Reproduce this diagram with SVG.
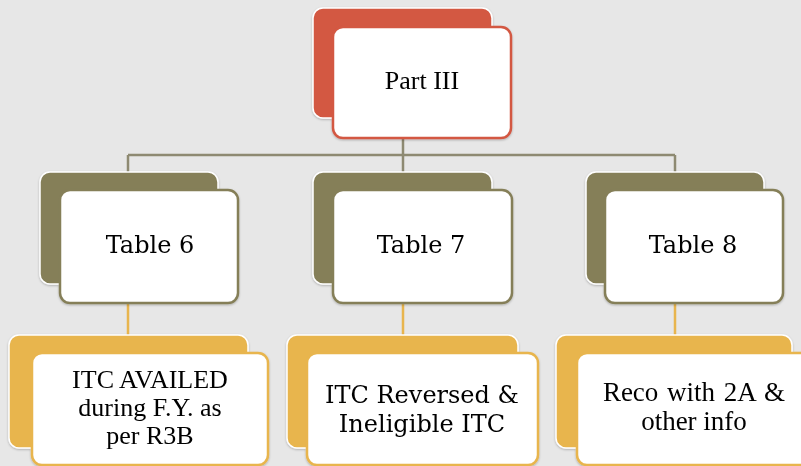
<svg xmlns="http://www.w3.org/2000/svg" width="801" height="466" viewBox="0 0 801 466">
<defs>
<style>
.back{stroke:#ffffff;stroke-width:1.5}
.red{fill:#D35843}
.olive{fill:#857F59}
.gold{fill:#E8B54E}
.front{fill:#ffffff;stroke-width:2.5}
.fr{stroke:#D35843}
.fo{stroke:#857F59}
.fg{stroke:#E8B54E}
.t{font-family:"Liberation Serif","Times New Roman",serif;fill:#000;text-anchor:middle}
.d{font-family:"DejaVu Serif",serif;fill:#000;text-anchor:middle}
.c1{fill:none;stroke:#8E8A72;stroke-width:2.5}
.c2{fill:none;stroke:#E8B54E;stroke-width:2.5}
</style>
<filter id="sh" x="-10%" y="-10%" width="120%" height="120%">
<feDropShadow dx="0" dy="1" stdDeviation="1" flood-color="#000" flood-opacity="0.25"/>
</filter>
</defs>
<rect width="801" height="466" fill="#E7E7E7"/>
<g id="connectors">
<path class="c1" d="M403 138V155M128 155H675M128 155V172M403 155V172M675 155V172"/>
<path class="c2" d="M128 303V335M403 303V335M675 303V335"/>
</g>
<g id="part3" filter="url(#sh)">
<rect class="back red" x="313" y="8" width="179" height="110" rx="10"/>
<rect class="front fr" x="333" y="27" width="178" height="111" rx="10"/>
<text class="t" x="422" y="89" font-size="26">Part III</text>
</g>
<g id="table6" filter="url(#sh)">
<rect class="back olive" x="40" y="172" width="178" height="112" rx="10"/>
<rect class="front fo" x="60" y="190" width="178" height="113" rx="10"/>
<text class="d" x="150" y="253" font-size="24">Table 6</text>
</g>
<g id="table7" filter="url(#sh)">
<rect class="back olive" x="313" y="172" width="179" height="112" rx="10"/>
<rect class="front fo" x="333" y="190" width="179" height="113" rx="10"/>
<text class="d" x="421" y="253" font-size="24">Table 7</text>
</g>
<g id="table8" filter="url(#sh)">
<rect class="back olive" x="586" y="172" width="178" height="112" rx="10"/>
<rect class="front fo" x="605" y="190" width="178" height="113" rx="10"/>
<text class="d" x="693" y="253" font-size="24">Table 8</text>
</g>
<g id="itc-availed" filter="url(#sh)">
<rect class="back gold" x="9" y="335" width="239" height="113" rx="10"/>
<rect class="front fg" x="32" y="353" width="236" height="112" rx="10"/>
<text class="t" x="150" y="388" font-size="26">ITC AVAILED</text>
<text class="t" x="150" y="416" font-size="26">during F.Y. as</text>
<text class="t" x="150" y="444" font-size="26">per R3B</text>
</g>
<g id="itc-reversed" filter="url(#sh)">
<rect class="back gold" x="287" y="335" width="231" height="113" rx="10"/>
<rect class="front fg" x="307" y="353" width="231" height="112" rx="10"/>
<text class="d" x="422" y="403" font-size="24">ITC Reversed &amp;</text>
<text class="d" x="422" y="432" font-size="24">Ineligible ITC</text>
</g>
<g id="reco" filter="url(#sh)">
<rect class="back gold" x="556" y="335" width="236" height="113" rx="10"/>
<rect class="front fg" x="577" y="353" width="236" height="112" rx="10"/>
<text class="t" x="694" y="401" font-size="27" word-spacing="2">Reco with 2A &amp;</text>
<text class="t" x="694" y="430" font-size="27">other info</text>
</g>
</svg>
